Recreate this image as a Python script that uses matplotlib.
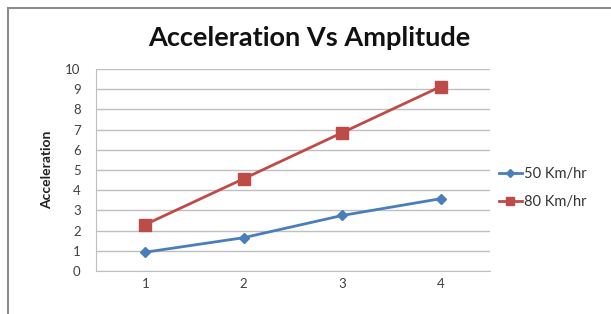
import numpy as np
import matplotlib
matplotlib.use("Agg")
import matplotlib.pyplot as plt
from matplotlib.patches import Rectangle

plt.rcParams['font.family'] = ['Lato', 'DejaVu Sans']

# data
categories = ['1', '2', '3', '4']
speed_50 = [0.93, 1.65, 2.75, 3.58]
speed_80 = [2.3, 4.57, 6.85, 9.13]
series_names = ['50 Km/hr', '80 Km/hr']

fig = plt.figure(figsize=(6.11, 3.14), dpi=100)
fig.patch.set_facecolor('white')

# frame of the original image (only left/top edges visible)
fig.patches.append(Rectangle((8 / 611, -0.1), 1.2, (314 - 8) / 314 + 0.1,
                             transform=fig.transFigure, fill=False,
                             edgecolor='#8c8c8c', linewidth=1.5))

ax = fig.add_axes([96 / 611, 1 - 271 / 314, (490 - 96) / 611, (271 - 69) / 314])

x = np.arange(len(categories))
ax.plot(x, speed_50, color='#4a7ebb', linewidth=2, marker='D', markersize=5,
        label=series_names[0])
ax.plot(x, speed_80, color='#be4b48', linewidth=2, marker='s', markersize=8.5,
        label=series_names[1])

ax.set_xlim(-0.5, len(categories) - 0.5)
ax.set_ylim(0, 10)
ax.set_yticks(range(0, 11))
ax.set_xticks(x)
ax.set_xticklabels(categories)
ax.tick_params(axis='both', length=0, labelsize=9.5, colors='#404040')
ax.tick_params(axis='x', pad=5)
ax.tick_params(axis='y', pad=11)

ax.grid(axis='y', color='#bfbfbf', linewidth=1)
ax.set_axisbelow(True)
for side in ['top', 'right']:
    ax.spines[side].set_visible(False)
ax.spines['left'].set_color('#bfbfbf')
ax.spines['bottom'].set_color('#bfbfbf')

ax.set_ylabel('Acceleration', fontsize=10, fontweight='bold', color='#202020',
              labelpad=9)

fig.text(0.506, 0.88, 'Acceleration Vs Amplitude', ha='center', va='center',
         fontsize=19.5, fontweight='bold', color='#111111')

leg = ax.legend(loc='center left', bbox_to_anchor=(1.0, 0.41), frameon=False,
                fontsize=10.5, handlelength=1.6, labelspacing=1.0,
                handletextpad=0.1, borderaxespad=0.2, markerscale=0.75)
for t in leg.get_texts():
    t.set_color('#333333')

fig.savefig('out.png', dpi=100)
